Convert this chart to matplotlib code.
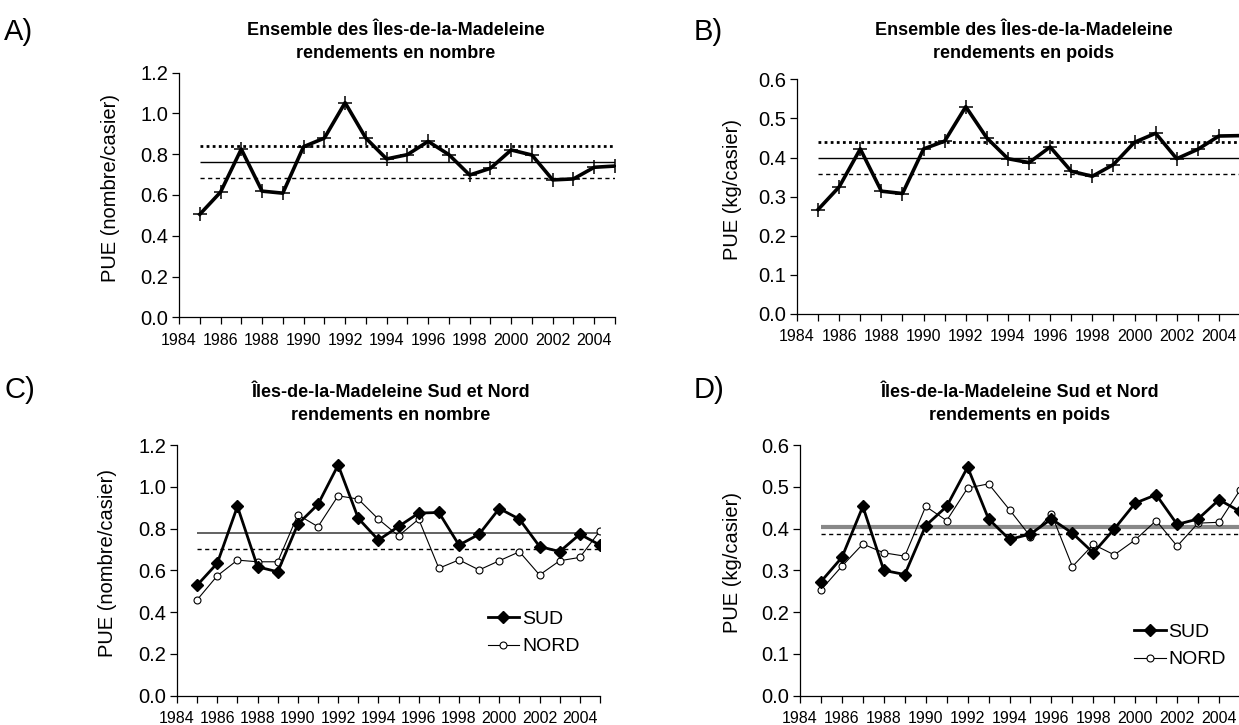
import numpy as np
import matplotlib
matplotlib.use('Agg')
import matplotlib.pyplot as plt

plt.rcParams['font.family'] = ['Liberation Sans', 'DejaVu Sans']

YEARS = list(range(1985, 2006))

# A) ensemble, rendements en nombre
pue_nombre = [0.505, 0.614, 0.825, 0.619, 0.609, 0.837, 0.879, 1.053, 0.879, 0.777, 0.798,
              0.863, 0.798, 0.698, 0.731, 0.821, 0.796, 0.674, 0.679, 0.736, 0.742]
nombre_mean = 0.762
nombre_upper = 0.838
nombre_lower = 0.685

# B) ensemble, rendements en poids
pue_poids = [0.267, 0.325, 0.422, 0.314, 0.308, 0.422, 0.442, 0.530, 0.450, 0.397, 0.387,
             0.427, 0.365, 0.352, 0.382, 0.439, 0.462, 0.397, 0.421, 0.455, 0.456]
poids_mean = 0.399
poids_upper = 0.439
poids_lower = 0.359

# C) sud / nord, en nombre
sud_nombre = [0.529, 0.634, 0.906, 0.617, 0.593, 0.821, 0.916, 1.104, 0.849, 0.745, 0.810,
              0.874, 0.877, 0.721, 0.773, 0.896, 0.845, 0.714, 0.690, 0.773, 0.721]
nord_nombre = [0.459, 0.574, 0.649, 0.641, 0.641, 0.866, 0.809, 0.957, 0.941, 0.845, 0.765,
               0.845, 0.610, 0.650, 0.602, 0.646, 0.689, 0.578, 0.646, 0.662, 0.789]
sn_nombre_mean = 0.781
sn_nombre_lower = 0.702

# D) sud / nord, en poids
sud_poids = [0.273, 0.331, 0.453, 0.300, 0.290, 0.407, 0.453, 0.547, 0.423, 0.374, 0.387,
             0.423, 0.389, 0.342, 0.399, 0.461, 0.481, 0.410, 0.423, 0.469, 0.441]
nord_poids = [0.253, 0.310, 0.363, 0.342, 0.334, 0.453, 0.419, 0.497, 0.507, 0.445, 0.381,
              0.435, 0.309, 0.362, 0.337, 0.373, 0.419, 0.358, 0.413, 0.415, 0.492]
sn_poids_mean = 0.403
sn_poids_lower = 0.387

W, H = 1239, 725


def px_axes(fig, left, right, top, bottom):
    return fig.add_axes([left / W, 1 - bottom / H, (right - left) / W, (bottom - top) / H])


def style_axes(ax, ymax, ystep, ylabel, label_x):
    ax.set_xlim(1984, 2005)
    ax.set_ylim(0, ymax)
    ax.set_xticks(range(1984, 2006))
    ax.set_xticklabels([str(y) if y % 2 == 0 and y < 2005 else '' for y in range(1984, 2006)],
                       fontsize=11.5)
    yt = np.arange(0, ymax + ystep / 2, ystep)
    ax.set_yticks(yt)
    ax.set_yticklabels(['%.1f' % v for v in yt], fontsize=14.5)
    ax.tick_params(direction='out', length=5, width=0.9, colors='black', pad=3)
    ax.tick_params(axis='x', pad=6)
    for s in ['top', 'right']:
        ax.spines[s].set_visible(False)
    for s in ['left', 'bottom']:
        ax.spines[s].set_linewidth(0.9)
    ax.set_ylabel(ylabel, fontsize=14.5)
    ax.yaxis.set_label_coords(label_x, 0.53)
    ax.patch.set_alpha(0)


fig = plt.figure(figsize=(W / 100, H / 100), dpi=100)

# ---- A
axA = px_axes(fig, 179, 615, 72.7, 317.3)
axA.plot(YEARS, pue_nombre, color='black', lw=2.6, marker='+', ms=10, mew=1.1, zorder=3)
axA.hlines(nombre_mean, 1985, 2005, color='black', lw=1.0)
axA.hlines(nombre_upper, 1985, 2005, color='black', lw=2.0, linestyles=[(0, (1, 1.2))])
axA.hlines(nombre_lower, 1985, 2005, color='black', lw=1.0, linestyles=[(0, (3, 2.5))])
style_axes(axA, 1.2, 0.2, 'PUE (nombre/casier)', -0.135)

# ---- B
axB = px_axes(fig, 797, 1240, 79.3, 314)
axB.plot(YEARS, pue_poids, color='black', lw=2.6, marker='+', ms=10, mew=1.1, zorder=3)
axB.hlines(poids_mean, 1985, 2005, color='black', lw=1.0)
axB.hlines(poids_upper, 1985, 2005, color='black', lw=2.0, linestyles=[(0, (1, 1.2))])
axB.hlines(poids_lower, 1985, 2005, color='black', lw=1.0, linestyles=[(0, (3, 2.5))])
style_axes(axB, 0.6, 0.1, 'PUE (kg/casier)', -0.124)

# ---- C
axC = px_axes(fig, 177, 600, 445, 695.7)
axC.hlines(sn_nombre_mean, 1985, 2005, color='#555555', lw=1.3)
axC.hlines(sn_nombre_lower, 1985, 2005, color='black', lw=1.0, linestyles=[(0, (3, 2.5))])
axC.plot(YEARS, sud_nombre, color='black', lw=2.0, marker='D', ms=6, mfc='black', mec='black',
         label='SUD', zorder=4)
axC.plot(YEARS, nord_nombre, color='black', lw=0.8, marker='o', ms=5, mfc='white', mec='black',
         mew=0.8, label='NORD', zorder=3)
style_axes(axC, 1.2, 0.2, 'PUE (nombre/casier)', -0.141)
axC.legend(loc='upper left', bbox_to_anchor=(0.735, 0.34), frameon=False, fontsize=14,
           handlelength=1.6, handletextpad=0.15, labelspacing=0.5, borderpad=0, borderaxespad=0)

# ---- D
axD = px_axes(fig, 800, 1240, 445, 695.7)
axD.hlines(sn_poids_mean, 1985, 2005, color='#888888', lw=3.0)
axD.hlines(sn_poids_lower, 1985, 2005, color='black', lw=1.0, linestyles=[(0, (3, 2.5))])
axD.plot(YEARS, sud_poids, color='black', lw=2.0, marker='D', ms=6, mfc='black', mec='black',
         label='SUD', zorder=4)
axD.plot(YEARS, nord_poids, color='black', lw=0.8, marker='o', ms=5, mfc='white', mec='black',
         mew=0.8, label='NORD', zorder=3)
style_axes(axD, 0.6, 0.1, 'PUE (kg/casier)', -0.132)
axD.legend(loc='upper left', bbox_to_anchor=(0.76, 0.288), frameon=False, fontsize=14,
           handlelength=1.6, handletextpad=0.15, labelspacing=0.5, borderpad=0, borderaxespad=0)

# titles and panel letters
titles = [
    (396, 42, 'Ensemble des Îles-de-la-Madeleine\nrendements en nombre'),
    (1024, 42, 'Ensemble des Îles-de-la-Madeleine\nrendements en poids'),
    (391, 404, 'Îles-de-la-Madeleine Sud et Nord\nrendements en nombre'),
    (1020, 404, 'Îles-de-la-Madeleine Sud et Nord\nrendements en poids'),
]
for x, y, t in titles:
    fig.text(x / W, 1 - y / H, t, ha='center', va='center', fontsize=13,
             fontweight='bold', linespacing=1.45)

for x, y, t in [(4, 32, 'A)'), (694, 32, 'B)'), (4, 390, 'C)'), (694, 390, 'D)')]:
    fig.text(x / W, 1 - y / H, t, ha='left', va='center', fontsize=21)

fig.savefig('out.png', dpi=100)
